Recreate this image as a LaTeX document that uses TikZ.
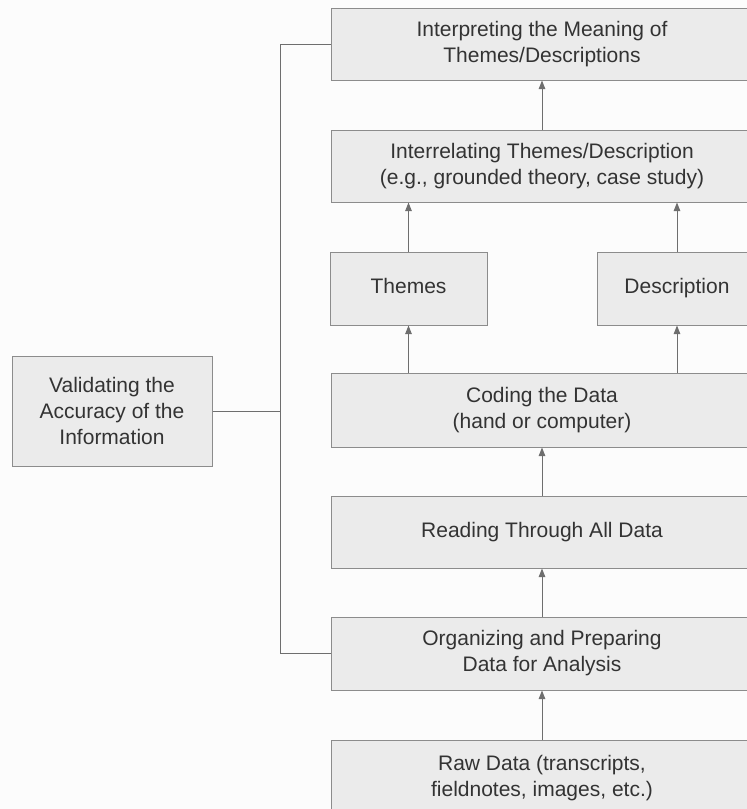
\documentclass[tikz,border=0pt]{standalone}
\usepackage{fontspec}
\setmainfont{Liberation Sans}
\usetikzlibrary{arrows.meta}
\definecolor{paper}{HTML}{FCFCFC}
\definecolor{boxfill}{HTML}{EBEBEB}
\definecolor{boxline}{HTML}{8C8C8C}
\definecolor{ink}{HTML}{333333}
\definecolor{wire}{HTML}{6E6E6E}
\tikzset{
  box/.style={draw=boxline, fill=boxfill, text=ink, line width=1pt,
    inner sep=0pt, align=center,
    font=\fontsize{21}{26}\selectfont},
  oneline/.style={text height=15pt, text depth=5pt},
  link/.style={draw=wire, line width=1pt},
  arr/.style={link, -{Triangle[width=6.5pt,length=8.5pt]}, color=wire}
}
\begin{document}
\begin{tikzpicture}[x=1pt,y=-1pt]
  \fill[paper] (0,0) rectangle (747,809);
  \useasboundingbox (0,0) rectangle (747,809);
  \clip (0,0) rectangle (747,809);

  % main column of stages
  \node[box, minimum width=422pt, minimum height=72pt] (interp) at (542,44)
    {Interpreting the Meaning of\\Themes/Descriptions};
  \node[box, minimum width=422pt, minimum height=72pt] (interrel) at (542,166)
    {Interrelating Themes/Description\\(e.g., grounded theory, case study)};
  \node[box, oneline, minimum width=157pt, minimum height=73pt] (themes) at (408.5,288.5)
    {Themes};
  \node[box, oneline, minimum width=160pt, minimum height=73pt] (descr) at (677,288.5)
    {Description};
  \node[box, minimum width=422pt, minimum height=74pt] (coding) at (542,410)
    {Coding the Data\\(hand or computer)};
  \node[box, oneline, minimum width=422pt, minimum height=72pt] (reading) at (542,532)
    {Reading Through All Data};
  \node[box, minimum width=422pt, minimum height=73pt] (organ) at (542,653.5)
    {Organizing and Preparing\\Data for Analysis};
  \node[box, minimum width=422pt, minimum height=76pt] (raw) at (542,778)
    {Raw Data (transcripts,\\fieldnotes, images, etc.)};

  % validation box on the left
  \node[box, minimum width=200pt, minimum height=110pt] (valid) at (112,411)
    {Validating the\\Accuracy of the\\Information};

  % upward flow
  \draw[arr] (raw.north) -- (organ.south);
  \draw[arr] (organ.north) -- (reading.south);
  \draw[arr] (reading.north) -- (coding.south);
  \draw[arr] (themes.south |- coding.north) -- (themes.south);
  \draw[arr] (descr.south |- coding.north) -- (descr.south);
  \draw[arr] (themes.north) -- (themes.north |- interrel.south);
  \draw[arr] (descr.north) -- (descr.north |- interrel.south);
  \draw[arr] (interrel.north) -- (interp.south);

  % bracket tying validation to the whole process
  \coordinate (spine) at (280.5,411);
  \draw[link] (interp.west) -| (spine) |- (organ.west);
  \draw[link] (valid.east) -- (spine);
\end{tikzpicture}
\end{document}
